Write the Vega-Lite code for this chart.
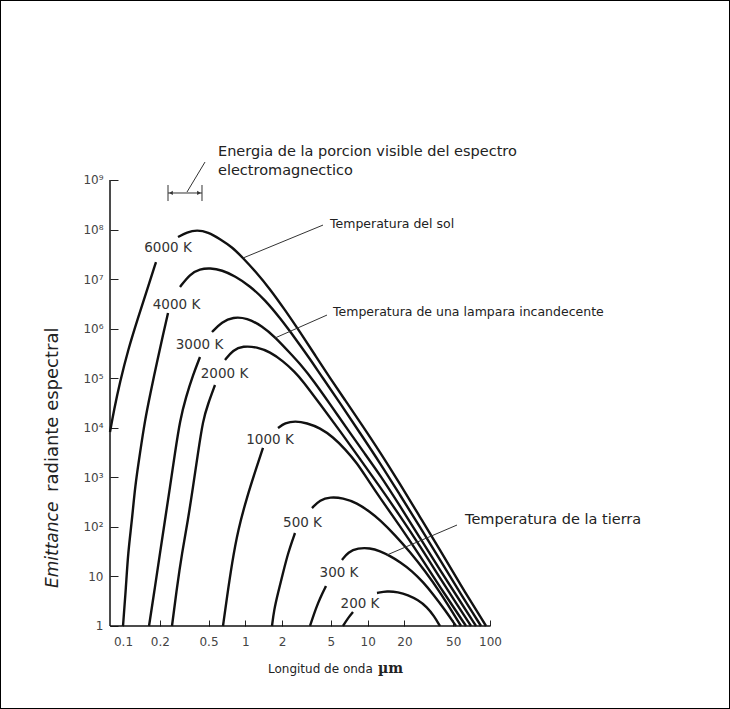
{
  "$schema": "https://vega.github.io/schema/vega-lite/v6.json",
  "width": 730,
  "height": 709,
  "autosize": "none",
  "padding": 0,
  "background": "white",
  "config": {
    "view": {"stroke": "#000", "strokeWidth": 2},
    "axis": {"grid": false, "domain": false}
  },
  "datasets": {
    "curves": [
      {"segment": "6000a", "wavelength_um": 0.0783, "emittance": 8210},
      {"segment": "6000a", "wavelength_um": 0.0844, "emittance": 22800},
      {"segment": "6000a", "wavelength_um": 0.0945, "emittance": 83800},
      {"segment": "6000a", "wavelength_um": 0.1099, "emittance": 371000},
      {"segment": "6000a", "wavelength_um": 0.1326, "emittance": 1640000},
      {"segment": "6000a", "wavelength_um": 0.1571, "emittance": 6020000},
      {"segment": "6000a", "wavelength_um": 0.1861, "emittance": 22100000},
      {"segment": "6000b", "wavelength_um": 0.2816, "emittance": 70600000},
      {"segment": "6000b", "wavelength_um": 0.3336, "emittance": 89100000},
      {"segment": "6000b", "wavelength_um": 0.4026, "emittance": 97800000},
      {"segment": "6000b", "wavelength_um": 0.4953, "emittance": 89100000},
      {"segment": "6000b", "wavelength_um": 0.6208, "emittance": 64400000},
      {"segment": "6000b", "wavelength_um": 0.7784, "emittance": 44400000},
      {"segment": "6000b", "wavelength_um": 0.9572, "emittance": 26600000},
      {"segment": "6000b", "wavelength_um": 1.222, "emittance": 13900000},
      {"segment": "6000b", "wavelength_um": 1.591, "emittance": 6310000},
      {"segment": "6000b", "wavelength_um": 2.11, "emittance": 2380000},
      {"segment": "6000b", "wavelength_um": 2.799, "emittance": 855000},
      {"segment": "6000b", "wavelength_um": 3.711, "emittance": 294000},
      {"segment": "6000b", "wavelength_um": 4.922, "emittance": 101000},
      {"segment": "6000b", "wavelength_um": 6.528, "emittance": 36300},
      {"segment": "6000b", "wavelength_um": 8.659, "emittance": 13100},
      {"segment": "6000b", "wavelength_um": 12.62, "emittance": 3243},
      {"segment": "6000b", "wavelength_um": 18.38, "emittance": 733},
      {"segment": "6000b", "wavelength_um": 26.79, "emittance": 158},
      {"segment": "6000b", "wavelength_um": 39.03, "emittance": 34.2},
      {"segment": "6000b", "wavelength_um": 56.88, "emittance": 7.04},
      {"segment": "6000b", "wavelength_um": 92.8, "emittance": 1},
      {"segment": "4000a", "wavelength_um": 0.1, "emittance": 1},
      {"segment": "4000a", "wavelength_um": 0.1058, "emittance": 6.12},
      {"segment": "4000a", "wavelength_um": 0.1099, "emittance": 29.7},
      {"segment": "4000a", "wavelength_um": 0.1185, "emittance": 138},
      {"segment": "4000a", "wavelength_um": 0.1253, "emittance": 638},
      {"segment": "4000a", "wavelength_um": 0.1377, "emittance": 3097},
      {"segment": "4000a", "wavelength_um": 0.1513, "emittance": 14300},
      {"segment": "4000a", "wavelength_um": 0.1663, "emittance": 45800},
      {"segment": "4000a", "wavelength_um": 0.1897, "emittance": 212000},
      {"segment": "4000a", "wavelength_um": 0.2123, "emittance": 745000},
      {"segment": "4000a", "wavelength_um": 0.2333, "emittance": 2070000},
      {"segment": "4000b", "wavelength_um": 0.2924, "emittance": 6920000},
      {"segment": "4000b", "wavelength_um": 0.3529, "emittance": 12700000},
      {"segment": "4000b", "wavelength_um": 0.426, "emittance": 16000000},
      {"segment": "4000b", "wavelength_um": 0.5144, "emittance": 16700000},
      {"segment": "4000b", "wavelength_um": 0.6445, "emittance": 15200000},
      {"segment": "4000b", "wavelength_um": 0.8233, "emittance": 11500000},
      {"segment": "4000b", "wavelength_um": 1.092, "emittance": 7250000},
      {"segment": "4000b", "wavelength_um": 1.448, "emittance": 3780000},
      {"segment": "4000b", "wavelength_um": 1.92, "emittance": 1640000},
      {"segment": "4000b", "wavelength_um": 2.547, "emittance": 647000},
      {"segment": "4000b", "wavelength_um": 3.379, "emittance": 244000},
      {"segment": "4000b", "wavelength_um": 4.234, "emittance": 106000},
      {"segment": "4000b", "wavelength_um": 5.94, "emittance": 31600},
      {"segment": "4000b", "wavelength_um": 8.659, "emittance": 7840},
      {"segment": "4000b", "wavelength_um": 12.62, "emittance": 1945},
      {"segment": "4000b", "wavelength_um": 18.38, "emittance": 440},
      {"segment": "4000b", "wavelength_um": 26.79, "emittance": 99.5},
      {"segment": "4000b", "wavelength_um": 39.03, "emittance": 21.5},
      {"segment": "4000b", "wavelength_um": 56.88, "emittance": 4.63},
      {"segment": "4000b", "wavelength_um": 84.49, "emittance": 1},
      {"segment": "3000a", "wavelength_um": 0.1632, "emittance": 1},
      {"segment": "3000a", "wavelength_um": 0.1826, "emittance": 6.12},
      {"segment": "3000a", "wavelength_um": 0.2007, "emittance": 29.7},
      {"segment": "3000a", "wavelength_um": 0.2205, "emittance": 138},
      {"segment": "3000a", "wavelength_um": 0.2422, "emittance": 638},
      {"segment": "3000a", "wavelength_um": 0.2661, "emittance": 3097},
      {"segment": "3000a", "wavelength_um": 0.2924, "emittance": 14300},
      {"segment": "3000a", "wavelength_um": 0.3273, "emittance": 41800},
      {"segment": "3000a", "wavelength_um": 0.3734, "emittance": 116000},
      {"segment": "3000a", "wavelength_um": 0.426, "emittance": 268000},
      {"segment": "3000b", "wavelength_um": 0.534, "emittance": 855000},
      {"segment": "3000b", "wavelength_um": 0.6445, "emittance": 1360000},
      {"segment": "3000b", "wavelength_um": 0.793, "emittance": 1720000},
      {"segment": "3000b", "wavelength_um": 1.032, "emittance": 1640000},
      {"segment": "3000b", "wavelength_um": 1.369, "emittance": 1130000},
      {"segment": "3000b", "wavelength_um": 1.748, "emittance": 678000},
      {"segment": "3000b", "wavelength_um": 2.318, "emittance": 322000},
      {"segment": "3000b", "wavelength_um": 2.906, "emittance": 176000},
      {"segment": "3000b", "wavelength_um": 3.574, "emittance": 92000},
      {"segment": "3000b", "wavelength_um": 4.922, "emittance": 30200},
      {"segment": "3000b", "wavelength_um": 7.173, "emittance": 7840},
      {"segment": "3000b", "wavelength_um": 9.513, "emittance": 2957},
      {"segment": "3000b", "wavelength_um": 12.62, "emittance": 1114},
      {"segment": "3000b", "wavelength_um": 18.38, "emittance": 264},
      {"segment": "3000b", "wavelength_um": 26.79, "emittance": 59.7},
      {"segment": "3000b", "wavelength_um": 39.03, "emittance": 13.5},
      {"segment": "3000b", "wavelength_um": 56.88, "emittance": 3.19},
      {"segment": "3000b", "wavelength_um": 76.86, "emittance": 1},
      {"segment": "2000a", "wavelength_um": 0.2515, "emittance": 1},
      {"segment": "2000a", "wavelength_um": 0.2763, "emittance": 6.12},
      {"segment": "2000a", "wavelength_um": 0.3036, "emittance": 29.7},
      {"segment": "2000a", "wavelength_um": 0.3398, "emittance": 138},
      {"segment": "2000a", "wavelength_um": 0.3734, "emittance": 638},
      {"segment": "2000a", "wavelength_um": 0.4103, "emittance": 3097},
      {"segment": "2000a", "wavelength_um": 0.4508, "emittance": 14300},
      {"segment": "2000a", "wavelength_um": 0.4953, "emittance": 30200},
      {"segment": "2000a", "wavelength_um": 0.565, "emittance": 72900},
      {"segment": "2000b", "wavelength_um": 0.6822, "emittance": 233000},
      {"segment": "2000b", "wavelength_um": 0.793, "emittance": 371000},
      {"segment": "2000b", "wavelength_um": 0.9572, "emittance": 447000},
      {"segment": "2000b", "wavelength_um": 1.245, "emittance": 426000},
      {"segment": "2000b", "wavelength_um": 1.591, "emittance": 338000},
      {"segment": "2000b", "wavelength_um": 2.032, "emittance": 222000},
      {"segment": "2000b", "wavelength_um": 2.547, "emittance": 133000},
      {"segment": "2000b", "wavelength_um": 2.906, "emittance": 92000},
      {"segment": "2000b", "wavelength_um": 4.078, "emittance": 30200},
      {"segment": "2000b", "wavelength_um": 5.94, "emittance": 8610},
      {"segment": "2000b", "wavelength_um": 8.659, "emittance": 2342},
      {"segment": "2000b", "wavelength_um": 12.62, "emittance": 638},
      {"segment": "2000b", "wavelength_um": 18.38, "emittance": 166},
      {"segment": "2000b", "wavelength_um": 26.79, "emittance": 41.1},
      {"segment": "2000b", "wavelength_um": 39.03, "emittance": 9.3},
      {"segment": "2000b", "wavelength_um": 52.74, "emittance": 2.91},
      {"segment": "2000b", "wavelength_um": 69.96, "emittance": 1},
      {"segment": "1000a", "wavelength_um": 0.6568, "emittance": 1},
      {"segment": "1000a", "wavelength_um": 0.7083, "emittance": 3.85},
      {"segment": "1000a", "wavelength_um": 0.7784, "emittance": 18.7},
      {"segment": "1000a", "wavelength_um": 0.8712, "emittance": 86.5},
      {"segment": "1000a", "wavelength_um": 1.032, "emittance": 401},
      {"segment": "1000a", "wavelength_um": 1.222, "emittance": 1472},
      {"segment": "1000a", "wavelength_um": 1.394, "emittance": 3908},
      {"segment": "1000b", "wavelength_um": 1.849, "emittance": 9890},
      {"segment": "1000b", "wavelength_um": 2.11, "emittance": 12500},
      {"segment": "1000b", "wavelength_um": 2.547, "emittance": 13700},
      {"segment": "1000b", "wavelength_um": 3.192, "emittance": 12500},
      {"segment": "1000b", "wavelength_um": 4.078, "emittance": 9890},
      {"segment": "1000b", "wavelength_um": 5.21, "emittance": 6510},
      {"segment": "1000b", "wavelength_um": 6.528, "emittance": 3727},
      {"segment": "1000b", "wavelength_um": 8.182, "emittance": 1945},
      {"segment": "1000b", "wavelength_um": 10.07, "emittance": 883},
      {"segment": "1000b", "wavelength_um": 12.62, "emittance": 383},
      {"segment": "1000b", "wavelength_um": 18.38, "emittance": 104},
      {"segment": "1000b", "wavelength_um": 26.79, "emittance": 25.9},
      {"segment": "1000b", "wavelength_um": 39.03, "emittance": 6.12},
      {"segment": "1000b", "wavelength_um": 63.67, "emittance": 1},
      {"segment": "500a", "wavelength_um": 1.652, "emittance": 1},
      {"segment": "500a", "wavelength_um": 1.716, "emittance": 2.1},
      {"segment": "500a", "wavelength_um": 1.849, "emittance": 4.63},
      {"segment": "500a", "wavelength_um": 2.032, "emittance": 11.7},
      {"segment": "500a", "wavelength_um": 2.233, "emittance": 29.7},
      {"segment": "500a", "wavelength_um": 2.547, "emittance": 75.3},
      {"segment": "500b", "wavelength_um": 3.508, "emittance": 240},
      {"segment": "500b", "wavelength_um": 4.078, "emittance": 349},
      {"segment": "500b", "wavelength_um": 4.922, "emittance": 401},
      {"segment": "500b", "wavelength_um": 6.286, "emittance": 383},
      {"segment": "500b", "wavelength_um": 8.182, "emittance": 303},
      {"segment": "500b", "wavelength_um": 10.45, "emittance": 200},
      {"segment": "500b", "wavelength_um": 12.62, "emittance": 138},
      {"segment": "500b", "wavelength_um": 16.73, "emittance": 68.6},
      {"segment": "500b", "wavelength_um": 22.19, "emittance": 31.1},
      {"segment": "500b", "wavelength_um": 29.43, "emittance": 12.9},
      {"segment": "500b", "wavelength_um": 39.03, "emittance": 4.85},
      {"segment": "500b", "wavelength_um": 57.96, "emittance": 1},
      {"segment": "300a", "wavelength_um": 3.379, "emittance": 1},
      {"segment": "300a", "wavelength_um": 3.641, "emittance": 1.75},
      {"segment": "300a", "wavelength_um": 3.927, "emittance": 2.91},
      {"segment": "300a", "wavelength_um": 4.234, "emittance": 4.42},
      {"segment": "300a", "wavelength_um": 4.564, "emittance": 6.41},
      {"segment": "300b", "wavelength_um": 6.169, "emittance": 21.5},
      {"segment": "300b", "wavelength_um": 6.907, "emittance": 31.1},
      {"segment": "300b", "wavelength_um": 8.337, "emittance": 37.5},
      {"segment": "300b", "wavelength_um": 10.45, "emittance": 37.5},
      {"segment": "300b", "wavelength_um": 12.62, "emittance": 32.6},
      {"segment": "300b", "wavelength_um": 15.23, "emittance": 25.9},
      {"segment": "300b", "wavelength_um": 18.38, "emittance": 19.6},
      {"segment": "300b", "wavelength_um": 23.05, "emittance": 12.9},
      {"segment": "300b", "wavelength_um": 28.34, "emittance": 7.72},
      {"segment": "300b", "wavelength_um": 34.21, "emittance": 4.42},
      {"segment": "300b", "wavelength_um": 42.89, "emittance": 2.1},
      {"segment": "300b", "wavelength_um": 52.74, "emittance": 1},
      {"segment": "200a", "wavelength_um": 6.286, "emittance": 1},
      {"segment": "200a", "wavelength_um": 6.907, "emittance": 1.45},
      {"segment": "200a", "wavelength_um": 7.59, "emittance": 1.92},
      {"segment": "200b", "wavelength_um": 11.92, "emittance": 4.63},
      {"segment": "200b", "wavelength_um": 14.39, "emittance": 5.08},
      {"segment": "200b", "wavelength_um": 17.7, "emittance": 4.85},
      {"segment": "200b", "wavelength_um": 21.37, "emittance": 4.22},
      {"segment": "200b", "wavelength_um": 25.79, "emittance": 3.35},
      {"segment": "200b", "wavelength_um": 30.56, "emittance": 2.42},
      {"segment": "200b", "wavelength_um": 34.86, "emittance": 1.59},
      {"segment": "200b", "wavelength_um": 39.03, "emittance": 1}
    ],
    "curve_labels": [
      {"label": "6000 K", "wavelength_um": 0.2333, "emittance": 42400000},
      {"label": "4000 K", "wavelength_um": 0.2738, "emittance": 3000000},
      {"label": "3000 K", "wavelength_um": 0.422, "emittance": 468000},
      {"label": "2000 K", "wavelength_um": 0.6758, "emittance": 122000},
      {"label": "1000 K", "wavelength_um": 1.591, "emittance": 5660},
      {"label": "500 K", "wavelength_um": 2.934, "emittance": 120},
      {"label": "300 K", "wavelength_um": 5.83, "emittance": 11.7},
      {"label": "200 K", "wavelength_um": 8.66, "emittance": 2.78}
    ],
    "annotations": [
      {"group": "visible", "label": "Energia de la porcion visible del espectro", "wavelength_um": 0.5978, "emittance": 3660000000},
      {"group": "visible", "label": "electromagnectico", "wavelength_um": 0.5978, "emittance": 1520000000},
      {"group": "lamps", "label": "Temperatura del sol", "wavelength_um": 4.922, "emittance": 129000000},
      {"group": "lamps", "label": "Temperatura de una lampara incandecente", "wavelength_um": 5.21, "emittance": 2170000},
      {"group": "earth", "label": "Temperatura de la tierra", "wavelength_um": 62.5, "emittance": 138}
    ],
    "leaders": [
      {"wavelength_um": 4.314, "emittance": 123000000, "wavelength_um2": 0.9572, "emittance2": 26600000},
      {"wavelength_um": 4.651, "emittance": 1880000, "wavelength_um2": 1.748, "emittance2": 647000},
      {"wavelength_um": 53.75, "emittance": 109, "wavelength_um2": 14.39, "emittance2": 27.1},
      {"wavelength_um": 0.4681, "emittance": 2300000000, "wavelength_um2": 0.3336, "emittance2": 571000000},
      {"wavelength_um": 0.2333, "emittance": 546000000, "wavelength_um2": 0.4423, "emittance2": 546000000},
      {"wavelength_um": 0.2333, "emittance": 791000000, "wavelength_um2": 0.2333, "emittance2": 376000000},
      {"wavelength_um": 0.4423, "emittance": 791000000, "wavelength_um2": 0.4423, "emittance2": 376000000}
    ],
    "arrowheads": [
      {"pointing": "left", "wavelength_um": 0.2468, "emittance": 546000000},
      {"pointing": "right", "wavelength_um": 0.418, "emittance": 546000000}
    ],
    "axis_lines": [
      {"wavelength_um": 0.0783, "emittance": 1, "wavelength_um2": 100, "emittance2": 1},
      {"wavelength_um": 0.0783, "emittance": 1, "wavelength_um2": 0.0783, "emittance2": 1000000000}
    ]
  },
  "encoding": {
    "x": {
      "field": "wavelength_um",
      "type": "quantitative",
      "scale": {"type": "log", "domain": [0.009874, 9162], "nice": false},
      "axis": {
        "orient": "bottom",
        "offset": -83,
        "values": [0.1, 0.2, 0.5, 1, 2, 5, 10, 20, 50, 100],
        "labelExpr": "datum.value < 1 ? format(datum.value, '.1f') : format(datum.value, 'd')",
        "tickSize": -6,
        "tickColor": "#222",
        "labelPadding": 16,
        "labelFont": "DejaVu Sans",
        "labelFontSize": 12,
        "labelColor": "#444",
        "labelOverlap": false,
        "labelFlush": false,
        "title": null
      }
    },
    "y": {
      "field": "emittance",
      "type": "quantitative",
      "scale": {"type": "log", "domain": [0.02114, 4280000000000], "nice": false},
      "axis": {
        "orient": "left",
        "offset": -110,
        "values": [1, 10, 100, 1000, 10000, 100000, 1000000, 10000000, 100000000, 1000000000],
        "labelExpr": "datum.value == 1 ? '1' : datum.value == 10 ? '10' : '10' + ['','','²','³','⁴','⁵','⁶','⁷','⁸','⁹'][round(log(datum.value)/LN10)]",
        "tickSize": -8,
        "tickColor": "#222",
        "labelPadding": 15,
        "labelFont": "DejaVu Sans",
        "labelFontSize": 12,
        "labelColor": "#444",
        "labelOverlap": false,
        "labelFlush": false,
        "title": null
      }
    }
  },
  "layer": [
    {
      "data": {"name": "axis_lines"},
      "mark": {"type": "rule", "color": "#111", "strokeWidth": 1.5},
      "encoding": {"x2": {"field": "wavelength_um2"}, "y2": {"field": "emittance2"}}
    },
    {
      "data": {"name": "curves"},
      "mark": {"type": "line", "interpolate": "basis", "color": "#111", "strokeWidth": 2.4},
      "encoding": {"detail": {"field": "segment", "type": "nominal"}}
    },
    {
      "data": {"name": "leaders"},
      "mark": {"type": "rule", "color": "#333", "strokeWidth": 1},
      "encoding": {"x2": {"field": "wavelength_um2"}, "y2": {"field": "emittance2"}}
    },
    {
      "data": {"name": "arrowheads"},
      "mark": {"type": "point", "filled": true, "color": "#333", "size": 18, "opacity": 1},
      "encoding": {
        "shape": {"field": "pointing", "type": "nominal", "scale": {"domain": ["left", "right"], "range": ["triangle-left", "triangle-right"]}, "legend": null}
      }
    },
    {
      "data": {"name": "curve_labels"},
      "mark": {"type": "text", "font": "DejaVu Sans", "fontSize": 13.5, "color": "#333", "align": "center", "baseline": "middle"},
      "encoding": {"text": {"field": "label"}}
    },
    {
      "data": {"name": "annotations"},
      "transform": [{"filter": "datum.group == 'visible'"}],
      "mark": {"type": "text", "font": "DejaVu Sans", "fontSize": 14.5, "color": "#222", "align": "left", "baseline": "middle"},
      "encoding": {"text": {"field": "label"}}
    },
    {
      "data": {"name": "annotations"},
      "transform": [{"filter": "datum.group == 'lamps'"}],
      "mark": {"type": "text", "font": "DejaVu Sans", "fontSize": 12.5, "color": "#222", "align": "left", "baseline": "middle"},
      "encoding": {"text": {"field": "label"}}
    },
    {
      "data": {"name": "annotations"},
      "transform": [{"filter": "datum.group == 'earth'"}],
      "mark": {"type": "text", "font": "DejaVu Sans", "fontSize": 14.5, "color": "#222", "align": "left", "baseline": "middle"},
      "encoding": {"text": {"field": "label"}}
    },
    {
      "data": {"values": [{"label": "Emittance", "wavelength_um": 0.02678, "emittance": 5.84}]},
      "mark": {"type": "text", "font": "DejaVu Sans", "fontSize": 17, "fontStyle": "italic", "color": "#222", "align": "left", "baseline": "middle", "angle": 270},
      "encoding": {"text": {"field": "label"}}
    },
    {
      "data": {"values": [{"label": "radiante espectral", "wavelength_um": 0.02678, "emittance": 506}]},
      "mark": {"type": "text", "font": "DejaVu Sans", "fontSize": 18, "color": "#222", "align": "left", "baseline": "middle", "angle": 270},
      "encoding": {"text": {"field": "label"}}
    },
    {
      "data": {"values": [{"label": "Longitud de onda", "wavelength_um": 1.532, "emittance": 0.1356}]},
      "mark": {"type": "text", "font": "DejaVu Sans", "fontSize": 12, "color": "#222", "align": "left", "baseline": "middle"},
      "encoding": {"text": {"field": "label"}}
    },
    {
      "data": {"values": [{"label": "µm", "wavelength_um": 12.15, "emittance": 0.1356}]},
      "mark": {"type": "text", "font": "DejaVu Serif", "fontSize": 14, "fontWeight": "bold", "color": "#222", "align": "left", "baseline": "middle"},
      "encoding": {"text": {"field": "label"}}
    }
  ]
}
